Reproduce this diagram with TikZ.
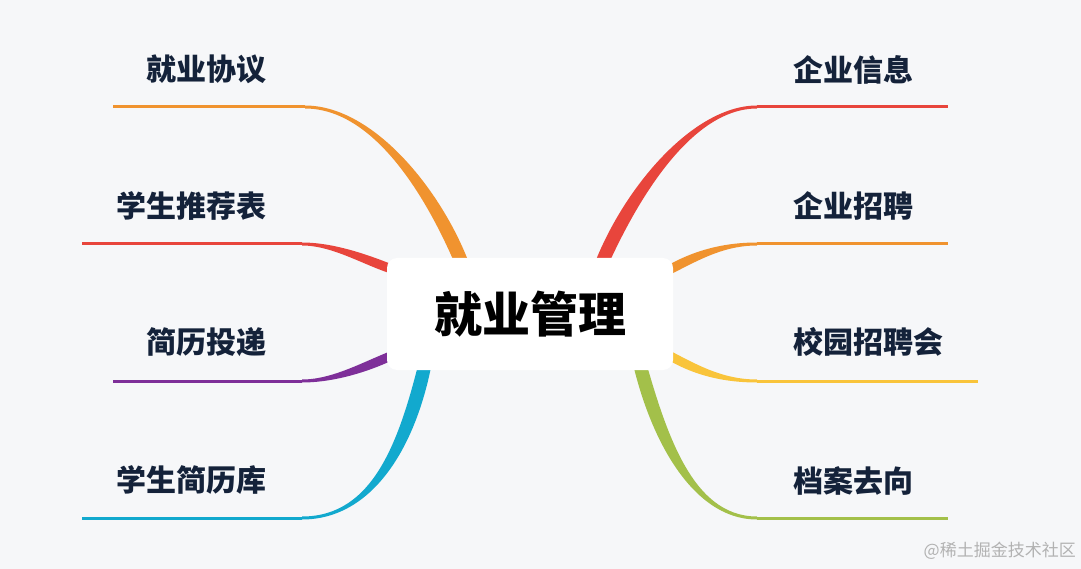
\documentclass[tikz,border=0pt]{standalone}
\usepackage{fontspec}
\newfontfamily\cjk{Noto Sans CJK SC}
\usetikzlibrary{calc}

\definecolor{bgcol}{HTML}{F6F7F9}
\definecolor{txtcol}{HTML}{14223A}
\definecolor{brorange}{HTML}{F0932F}
\definecolor{brred}{HTML}{E8453C}
\definecolor{brpurple}{HTML}{7E2F99}
\definecolor{brcyan}{HTML}{12A9CE}
\definecolor{bryellow}{HTML}{F9C43B}
\definecolor{brgreen}{HTML}{A3C04A}

% tapered branch: colour, start, control 1, control 2, end, start half-width, line end, end half-width
\newcommand{\branch}[8]{%
  \fill[#1] ($(#2)+(#6)$) .. controls ($(#3)+1.6*(#6)$) and ($(#4)+(#8)$) .. ($(#5)+(#8)$)
    -- ($(#5)-(#8)$) .. controls ($(#4)-(#8)$) and ($(#3)-1.6*(#6)$) .. ($(#2)-(#6)$) -- cycle;
  \draw[#1, line width=3] (#5) -- (#7);
}

\tikzset{
  leaf/.style={font=\cjk\bfseries\fontsize{30}{30}\selectfont, text=txtcol, inner sep=0pt},
  rootbox/.style={fill=white, rounded corners=10, minimum width=286, minimum height=112,
    font=\cjk\bfseries\fontsize{48}{48}\selectfont, text=black},
}

\begin{document}
\begin{tikzpicture}[x=1pt,y=-1pt]

  % ---- background ----
  \fill[bgcol] (0,0) rectangle (1081,569);
  \useasboundingbox (0,0) rectangle (1081,569);

  % ---- left branches ----
  \coordinate (l1s) at (470,285); \coordinate (l1e) at (305,107); \coordinate (l1f) at (113,107);
  \coordinate (l2s) at (400,272); \coordinate (l2e) at (302,244); \coordinate (l2f) at (82,244);
  \coordinate (l3s) at (400,352); \coordinate (l3e) at (302,381); \coordinate (l3f) at (113,381);
  \coordinate (l4s) at (428,350); \coordinate (l4e) at (302,518); \coordinate (l4f) at (82,518);

  \branch{brorange}{l1s}{445,210}{380,107}{l1e}{5.7,-1.9}{l1f}{0,-1.5}
  \branch{brred}{l2s}{370,262}{335,244}{l2e}{1.3,-3.8}{l2f}{0,-1.5}
  \branch{brpurple}{l3s}{370,365}{335,381}{l3e}{-1.6,-3.7}{l3f}{0,-1.5}
  \branch{brcyan}{l4s}{410,440}{375,518}{l4e}{-5.9,-1.2}{l4f}{0,-1.5}

  % ---- right branches ----
  \coordinate (r1s) at (595,280); \coordinate (r1e) at (757,107); \coordinate (r1f) at (948,107);
  \coordinate (r2s) at (660,275); \coordinate (r2e) at (757,244); \coordinate (r2f) at (948,244);
  \coordinate (r3s) at (660,350); \coordinate (r3e) at (757,381); \coordinate (r3f) at (978,381);
  \coordinate (r4s) at (635,345); \coordinate (r4e) at (757,518); \coordinate (r4f) at (948,518);

  \branch{brred}{r1s}{625,200}{690,107}{r1e}{5.6,2.1}{r1f}{0,1.5}
  \branch{brorange}{r2s}{690,258}{720,244}{r2e}{2,3.5}{r2f}{0,1.5}
  \branch{bryellow}{r3s}{690,368}{720,381}{r3e}{-2,3.4}{r3f}{0,1.5}
  \branch{brgreen}{r4s}{655,430}{690,518}{r4e}{-5.8,1.4}{r4f}{0,1.5}

  % ---- root ----
  \node[rootbox] (root) at (530,314) {就业管理};

  % ---- labels ----
  \node[leaf, anchor=east] (agree)  at (267,69)  {就业协议};
  \node[leaf, anchor=east] (recom)  at (267,206) {学生推荐表};
  \node[leaf, anchor=east] (deliv)  at (267,342) {简历投递};
  \node[leaf, anchor=east] (resume) at (267,480) {学生简历库};

  \node[leaf, anchor=west] (info)   at (793,70)  {企业信息};
  \node[leaf, anchor=west] (hire)   at (793,206) {企业招聘};
  \node[leaf, anchor=west] (fair)   at (793,342) {校园招聘会};
  \node[leaf, anchor=west] (record) at (793,481) {档案去向};

  % ---- watermark ----
  \node[anchor=east, inner sep=0pt, text=black!30, font=\cjk\fontsize{17}{17}\selectfont]
    (mark) at (1076,551) {@稀土掘金技术社区};

\end{tikzpicture}
\end{document}
